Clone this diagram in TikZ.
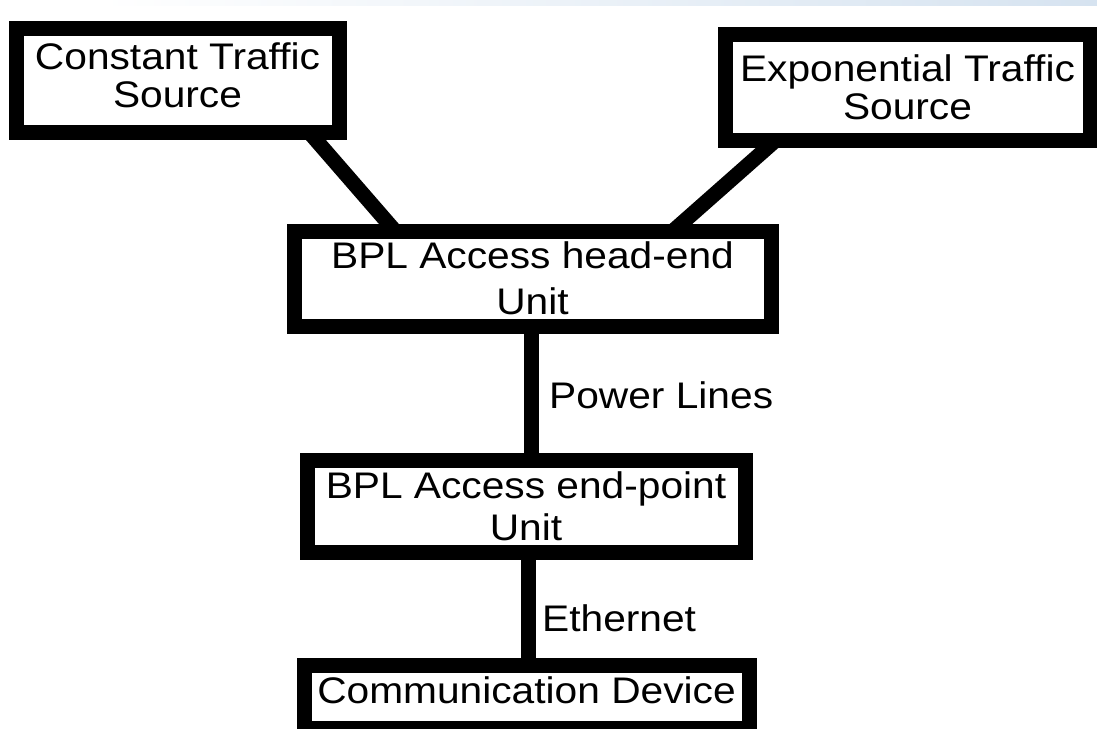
\documentclass[tikz,border=0pt]{standalone}
\usepackage{fontspec}
\setmainfont{Liberation Sans}[FakeStretch=1.1]
\begin{document}
\begin{tikzpicture}[x=1pt,y=-1pt,
  box/.style={draw=black, line width=15pt, fill=white, rectangle, inner sep=0pt, outer sep=0pt, align=center, text=black},
  wire/.style={draw=black, line width=15pt},
  lbl/.style={anchor=base west, inner sep=0pt, font=\fontsize{37}{44}\selectfont}]
\useasboundingbox (0,0) rectangle (1097,728);
\fill[white] (0,0) rectangle (1097,728);
\shade[left color=white, middle color={rgb,255:red,228;green,244;blue,249}, right color={rgb,255:red,214;green,227;blue,240}] (100,0) rectangle (1097,5);
% boxes
\node[box, minimum width=323pt, minimum height=104pt, text depth=9pt, font=\fontsize{37}{38}\selectfont] (cts) at (177.5,80) {Constant Traffic\\Source};
\node[box, minimum width=365pt, minimum height=106pt, font=\fontsize{37}{38}\selectfont] (ets) at (907.5,87) {Exponential Traffic\\Source};
\node[box, minimum width=477pt, minimum height=95pt, font=\fontsize{37}{46}\selectfont] (head) at (532.5,278.5) {BPL Access head-end\\Unit};
\node[box, minimum width=438pt, minimum height=92pt, font=\fontsize{37}{42}\selectfont] (endp) at (526,506) {BPL Access end-point\\Unit};
\node[box, minimum width=445pt, minimum height=63.5pt, text depth=14pt, font=\fontsize{37}{42}\selectfont] (comm) at (526.5,696.75) {Communication Device};
% connectors
\draw[wire] ([xshift=293pt]cts.south west) -- ([xshift=101pt]head.north west);
\draw[wire] ([xshift=51pt]ets.south west) -- ([xshift=379pt]head.north west);
\draw[wire] ([xshift=-1.5pt]head.south) -- ([xshift=5pt]endp.north);
\draw[wire] ([xshift=2pt]endp.south) -- ([xshift=1.5pt]comm.north);
% labels
\node[lbl] (pl) at (549,408) {Power Lines};
\node[lbl] (eth) at (542,631) {Ethernet};
\end{tikzpicture}
\end{document}
